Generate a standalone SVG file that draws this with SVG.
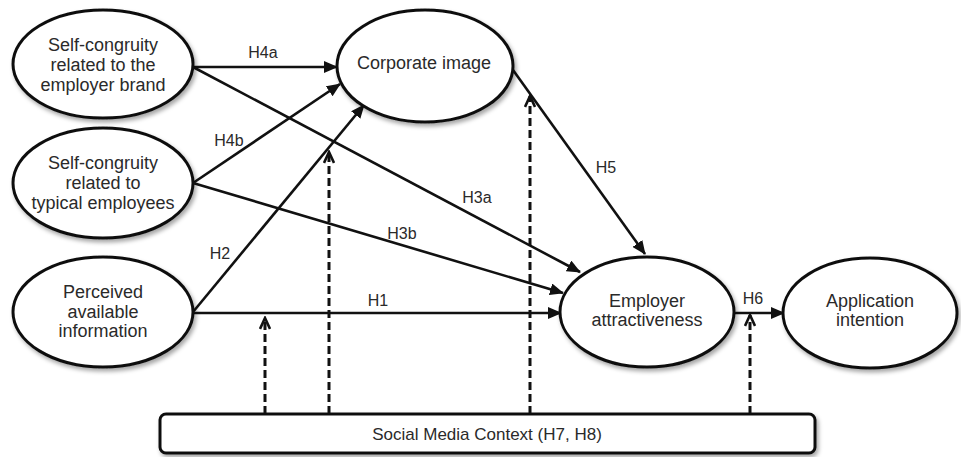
<svg xmlns="http://www.w3.org/2000/svg" width="961" height="457" viewBox="0 0 961 457">
  <style>
    .node ellipse, .node rect { fill: #fff; stroke: #111; stroke-width: 3; filter: url(#shadow); }
    .node text { font-family: "Liberation Sans", Arial, sans-serif; font-size: 18px; fill: #2a2a2a; text-anchor: middle; }
    .path { stroke: #111; stroke-width: 2.6; fill: none; marker-end: url(#solidHead); }
    .moderator { stroke: #111; stroke-width: 3; fill: none; stroke-dasharray: 8 4; marker-end: url(#openHead); }
    .label { font-family: "Liberation Sans", Arial, sans-serif; font-size: 16px; fill: #2a2a2a; text-anchor: middle; }
  </style>
  <defs>
    <filter id="shadow" x="-10%" y="-10%" width="125%" height="130%">
      <feDropShadow dx="2" dy="3" stdDeviation="2" flood-color="#000" flood-opacity="0.35"/>
    </filter>
    <marker id="solidHead" viewBox="0 0 14 12" refX="13" refY="6" markerWidth="14" markerHeight="12" markerUnits="userSpaceOnUse" orient="auto">
      <path d="M0,0 L14,6 L0,12 Z" fill="#111"/>
    </marker>
    <marker id="openHead" viewBox="0 0 14 12" refX="12" refY="6" markerWidth="14" markerHeight="12" markerUnits="userSpaceOnUse" orient="auto">
      <path d="M1,1 L12,6 L1,11" fill="none" stroke="#111" stroke-width="2.6"/>
    </marker>
  </defs>

  <rect width="961" height="457" fill="#fff"/>

  <!-- connectors -->
  <g id="connectors">
    <line class="path" x1="193" y1="67" x2="337" y2="67"/>
    <line class="path" x1="193" y1="183" x2="340" y2="84"/>
    <line class="path" x1="193" y1="312" x2="364" y2="105"/>
    <line class="path" x1="193" y1="67" x2="580" y2="272"/>
    <line class="path" x1="193" y1="183" x2="563" y2="293"/>
    <line class="path" x1="193" y1="313" x2="561" y2="313"/>
    <line class="path" x1="513" y1="70" x2="645" y2="254"/>
    <line class="path" x1="733" y1="313" x2="784" y2="313"/>

    <line class="moderator" x1="265" y1="414" x2="265" y2="318"/>
    <line class="moderator" x1="329" y1="414" x2="329" y2="152"/>
    <line class="moderator" x1="530" y1="414" x2="530" y2="96"/>
    <line class="moderator" x1="750" y1="414" x2="750" y2="315"/>

    <text class="label" x="263" y="58">H4a</text>
    <text class="label" x="229" y="146">H4b</text>
    <text class="label" x="220" y="259">H2</text>
    <text class="label" x="477" y="203">H3a</text>
    <text class="label" x="606" y="173">H5</text>
    <text class="label" x="402" y="239">H3b</text>
    <text class="label" x="378" y="306">H1</text>
    <text class="label" x="753" y="304">H6</text>
  </g>

  <g id="self-congruity-brand" class="node">
    <ellipse cx="103" cy="64" rx="90" ry="54"/>
    <text x="103" y="51">Self-congruity</text>
    <text x="103" y="71">related to the</text>
    <text x="103" y="91">employer brand</text>
  </g>

  <g id="self-congruity-employees" class="node">
    <ellipse cx="103" cy="183" rx="90" ry="55"/>
    <text x="103" y="169">Self-congruity</text>
    <text x="103" y="189">related to</text>
    <text x="103" y="209">typical employees</text>
  </g>

  <g id="perceived-information" class="node">
    <ellipse cx="103" cy="312" rx="90" ry="55"/>
    <text x="103" y="298">Perceived</text>
    <text x="103" y="318">available</text>
    <text x="103" y="337">information</text>
  </g>

  <g id="corporate-image" class="node">
    <ellipse cx="425" cy="66" rx="88" ry="56"/>
    <text x="424" y="69">Corporate image</text>
  </g>

  <g id="employer-attractiveness" class="node">
    <ellipse cx="647" cy="312" rx="87" ry="55"/>
    <text x="647" y="307">Employer</text>
    <text x="647" y="326">attractiveness</text>
  </g>

  <g id="application-intention" class="node">
    <ellipse cx="870" cy="313" rx="87" ry="55"/>
    <text x="870" y="307">Application</text>
    <text x="870" y="326">intention</text>
  </g>

  <g id="social-media-context" class="node">
    <rect x="160" y="414" width="655" height="39" rx="6"/>
    <text x="487" y="440" style="font-size:17px">Social Media Context (H7, H8)</text>
  </g>
</svg>
